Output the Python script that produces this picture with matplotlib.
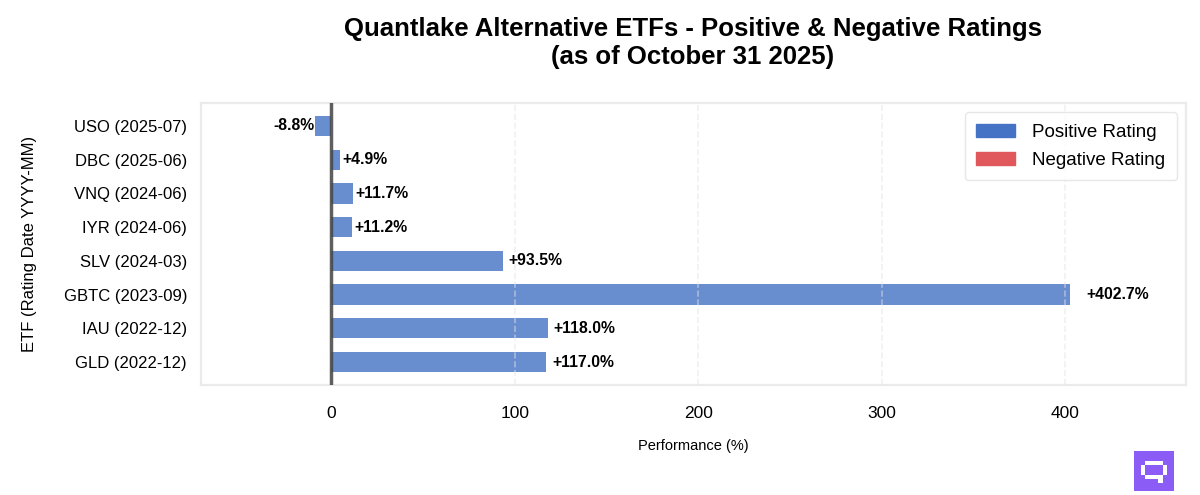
import matplotlib
matplotlib.use("Agg")
import matplotlib.pyplot as plt
from matplotlib.patches import Patch, Rectangle

plt.rcParams['font.family'] = ['Liberation Sans', 'DejaVu Sans']

etfs = ["USO (2025-07)", "DBC (2025-06)", "VNQ (2024-06)", "IYR (2024-06)",
        "SLV (2024-03)", "GBTC (2023-09)", "IAU (2022-12)", "GLD (2022-12)"]
performance = [-8.8, 4.9, 11.7, 11.2, 93.5, 402.7, 118.0, 117.0]
labels = ["-8.8%", "+4.9%", "+11.7%", "+11.2%", "+93.5%", "+402.7%", "+118.0%", "+117.0%"]

pos_color = "#4472C4"
neg_color = "#E0575C"

fig = plt.figure(figsize=(12, 4.95), dpi=100)
ax = fig.add_axes([201/1200, 1-385/495, (1186-201)/1200, (385-103)/495])

ypos = list(range(len(etfs)))
ax.barh(ypos, performance, height=0.6, color=pos_color, alpha=0.8, zorder=2)
ax.invert_yaxis()
ax.set_yticks(ypos)
ax.set_yticklabels(etfs, fontsize=12)

for y, v, lab in zip(ypos, performance, labels):
    if v >= 0:
        ax.text(v + v*0.02 + 1, y, lab, ha='left', va='center', fontsize=11.3, fontweight='bold', zorder=4)
    else:
        ax.text(v - 0.5, y, lab, ha='right', va='center', fontsize=11.3, fontweight='bold', zorder=4)

ax.axvline(0, color='#444444', linewidth=2.5, alpha=0.85, zorder=3)
ax.set_xlim(-71, 466)
ax.set_xticks([0, 100, 200, 300, 400])
ax.tick_params(axis='x', labelsize=12.5, length=0, pad=15)
ax.tick_params(axis='y', length=0, pad=10)
ax.xaxis.grid(True, linestyle='--', color='#e4e4e4', alpha=0.5, linewidth=1.2, zorder=5)
ax.set_axisbelow(False)
for s in ax.spines.values():
    s.set_color('#ebebeb')
    s.set_linewidth(1.6)

ax.set_xlabel("Performance (%)", fontsize=10.5, labelpad=13)
ax.set_ylabel("ETF (Rating Date YYYY-MM)", fontsize=12, labelpad=19)

handles = [Patch(color=pos_color, label="Positive Rating"),
           Patch(color=neg_color, label="Negative Rating")]
leg = ax.legend(handles=handles, loc='upper right', fontsize=13.5, frameon=True,
                edgecolor='#e2e2e2', borderpad=0.6, labelspacing=0.6,
                handlelength=2.1, handletextpad=0.9)

fig.text(693/1200, 1-43/495, "Quantlake Alternative ETFs - Positive & Negative Ratings\n(as of October 31 2025)",
         ha='center', va='center', fontsize=18.5, fontweight='bold', linespacing=1.25)

# logo
lx, ly, ls = 1134, 451, 40
def fr(x, y, w, h, c):
    fig.patches.append(Rectangle((x/1200, 1-(y+h)/495), w/1200, h/495, transform=fig.transFigure,
                                 facecolor=c, edgecolor='none'))
fr(lx, ly, ls, ls, '#8B5CF6')
fr(lx+11, ly+10, 18, 4, 'white')
fr(lx+7, ly+14, 4, 10, 'white')
fr(lx+29, ly+14, 4, 10, 'white')
fr(lx+11, ly+24, 18, 4, 'white')
fr(lx+24, ly+28, 5, 4, 'white')

fig.savefig("out.png", dpi=100, facecolor='white')
